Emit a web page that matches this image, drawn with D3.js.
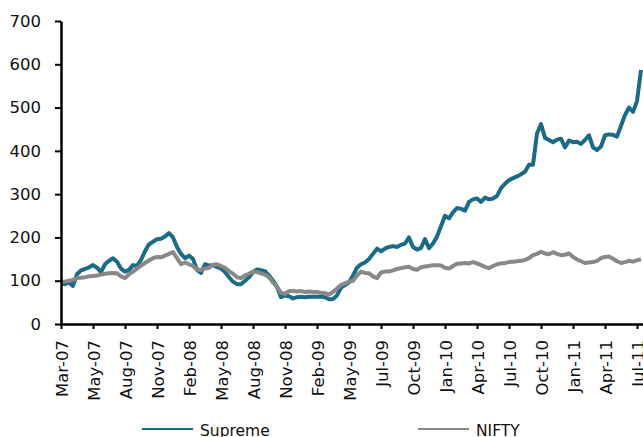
<!DOCTYPE html>
<html>
<head>
<meta charset="utf-8">
<script src="https://cdn.jsdelivr.net/npm/d3@7"></script>
<style>
body { margin: 0; background: #fff; }
svg { display: block; font-family: "DejaVu Sans", Verdana, sans-serif; }
</style>
</head>
<body>
<svg id="chart" width="643" height="437"></svg>
<script>
// tick labels on the category axis, one every 8 points
var tickLabels = ['Mar-07','May-07','Aug-07','Nov-07','Feb-08','May-08','Aug-08','Nov-08','Feb-09',
	'May-09','Jul-09','Oct-09','Jan-10','Apr-10','Jul-10','Oct-10','Jan-11','Apr-11','Jul-11'];

var supreme = [94,92,96,88,115,124,127,131,136,130,120,138,146,152,144,128,
	121,125,136,134,148,168,184,190,196,197,202,210,200,178,162,152,
	158,150,125,118,138,135,136,132,128,120,108,98,92,92,100,108,
	120,126,124,122,112,100,86,62,66,64,59,62,63,62,63,63,
	63,63,62,57,58,66,84,90,96,112,130,138,142,150,162,174,
	168,174,178,180,178,183,186,200,178,172,176,196,175,186,202,226,
	250,244,258,268,266,262,282,288,290,282,292,288,290,296,314,324,
	332,337,341,346,352,368,368,440,462,430,425,420,426,428,408,424,
	420,421,416,425,436,408,402,410,436,438,437,433,458,483,500,490,
	515,587];

var nifty = [97,98,100,102,106,107,108,110,111,112,114,116,117,118,117,110,
	106,115,121,128,135,141,147,152,155,154,158,162,166,152,138,142,
	138,134,126,125,128,130,137,138,134,130,122,116,108,106,112,116,
	121,120,117,114,108,96,86,72,70,76,76,75,76,74,75,74,
	74,72,71,68,74,82,90,94,98,100,112,121,118,117,110,106,
	119,121,121,124,127,129,131,132,127,125,131,133,134,136,136,135,
	130,128,134,139,140,141,140,143,140,136,132,129,134,138,140,141,
	143,144,145,146,148,152,159,162,167,163,161,166,162,159,160,163,
	155,149,145,141,142,143,146,152,155,156,151,145,141,143,146,144,
	147,150];

var yTicks = [0,100,200,300,400,500,600,700];

var width = 643;
var height = 437;

var svg = d3.select('#chart');

var x = d3.scaleLinear()
.domain([0, 145.5])
.range([61, 643]);

var y = d3.scaleLinear()
.domain([0, 700])
.range([324, 21]);

svg.append('clipPath')
.attr('id', 'plot')
.append('rect')
.attr('x', 61).attr('y', 0).attr('width', 582).attr('height', 326);

var line = d3.line()
.x(function(d, i) { return x(i); })
.y(function(d) { return y(d); });

var series = [
	{ name: 'Supreme', values: supreme, colour: '#1b6a86' },
	{ name: 'NIFTY', values: nifty, colour: '#888888' }
];

svg.append('g')
.attr('clip-path', 'url(#plot)')
.selectAll('path')
.data(series)
.enter()
.append('path')
.attr('d', function(d) { return line(d.values); })
.style('fill', 'none')
.style('stroke', function(d) { return d.colour; })
.style('stroke-width', 4)
.style('stroke-linejoin', 'round');

// y axis
var yAxis = svg.append('g')
.attr('transform', 'translate(61,0)')
.call(d3.axisLeft(y).tickValues(yTicks).tickSize(6).tickSizeOuter(0).tickPadding(14));

// x axis
var xAxis = svg.append('g')
.attr('transform', 'translate(0,324)')
.call(d3.axisBottom(x)
	.tickValues(d3.range(0, 145, 8))
	.tickFormat(function(d) { return tickLabels[d / 8]; })
	.tickSize(5).tickSizeOuter(0));

xAxis.selectAll('text')
.attr('transform', 'rotate(-90)')
.attr('x', -16)
.attr('y', 1)
.attr('dy', '0.35em')
.style('text-anchor', 'end');

svg.selectAll('.domain').style('stroke', '#000').style('stroke-width', 2.5);
svg.selectAll('.tick line').style('stroke', '#000').style('stroke-width', 2);
svg.selectAll('.tick text').style('font-size', '16.5px').style('fill', '#111')
.style('font-family', '"DejaVu Sans", Verdana, sans-serif');

// legend
var legend = svg.append('g')
.selectAll('g')
.data(series)
.enter()
.append('g')
.attr('transform', function(d, i) { return 'translate(' + [142, 418][i] + ',0)'; });

legend.append('line')
.attr('x1', 0).attr('x2', 51)
.attr('y1', 429).attr('y2', 429)
.style('stroke', function(d) { return d.colour; })
.style('stroke-width', 2);

legend.append('text')
.attr('x', 58)
.attr('y', 436)
.style('font-size', '15.5px')
.style('fill', '#111')
.text(function(d) { return d.name; });
</script>
</body>
</html>
